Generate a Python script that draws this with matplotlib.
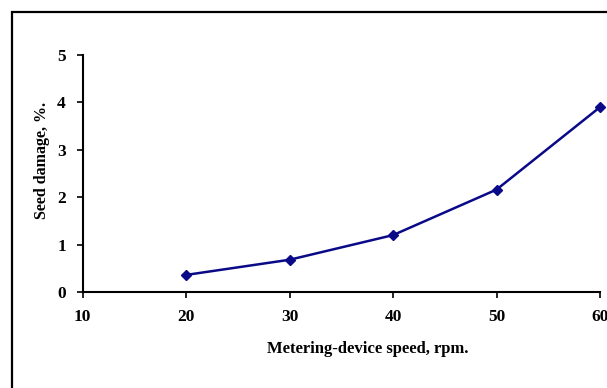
import matplotlib
matplotlib.use("Agg")
import matplotlib.pyplot as plt
from matplotlib.patches import Rectangle

speed = [20, 30, 40, 50, 60]
damage = [0.36, 0.68, 1.2, 2.16, 3.9]
xticks = [10, 20, 30, 40, 50, 60]
yticks = [0, 1, 2, 3, 4, 5]

plt.rcParams['font.family'] = ['Liberation Serif', 'DejaVu Serif']

fig = plt.figure(figsize=(6.07, 3.88), dpi=100)
W, H = 607, 388
# outer frame of the figure box (extends beyond right/bottom edges)
fig.patches.append(Rectangle((12 / W, -0.05), 1.2, 1 - 12 / H + 0.05,
                             transform=fig.transFigure, fill=False,
                             edgecolor='black', linewidth=1.6, clip_on=False))

ax = fig.add_axes([82.5 / W, 1 - 292 / H, (600 - 82.5) / W, (292 - 55) / H])
ax.plot(speed, damage, color='#0a0a88', linewidth=1.8, marker='D',
        markersize=5.5, clip_on=False, zorder=3)
ax.set_xlim(10, 60)
ax.set_ylim(0, 5)
ax.set_xticks(xticks)
ax.set_yticks(yticks)
for s in ['top', 'right']:
    ax.spines[s].set_visible(False)
for s in ['left', 'bottom']:
    ax.spines[s].set_linewidth(1.5)
    ax.spines[s].set_color('black')
ax.tick_params(direction='out', length=4, width=1.2, labelsize=12.5, pad=8)
for lab in ax.get_xticklabels() + ax.get_yticklabels():
    lab.set_fontweight('bold')
ax.set_xlabel('Metering-device speed, rpm.', fontsize=12, fontweight='bold')
ax.xaxis.set_label_coords(0.552, -0.205)
ax.set_ylabel('Seed damage, %.', fontsize=11.5, fontweight='bold')
ax.yaxis.set_label_coords(-0.062, 0.557)

fig.savefig('out.png', dpi=100)
